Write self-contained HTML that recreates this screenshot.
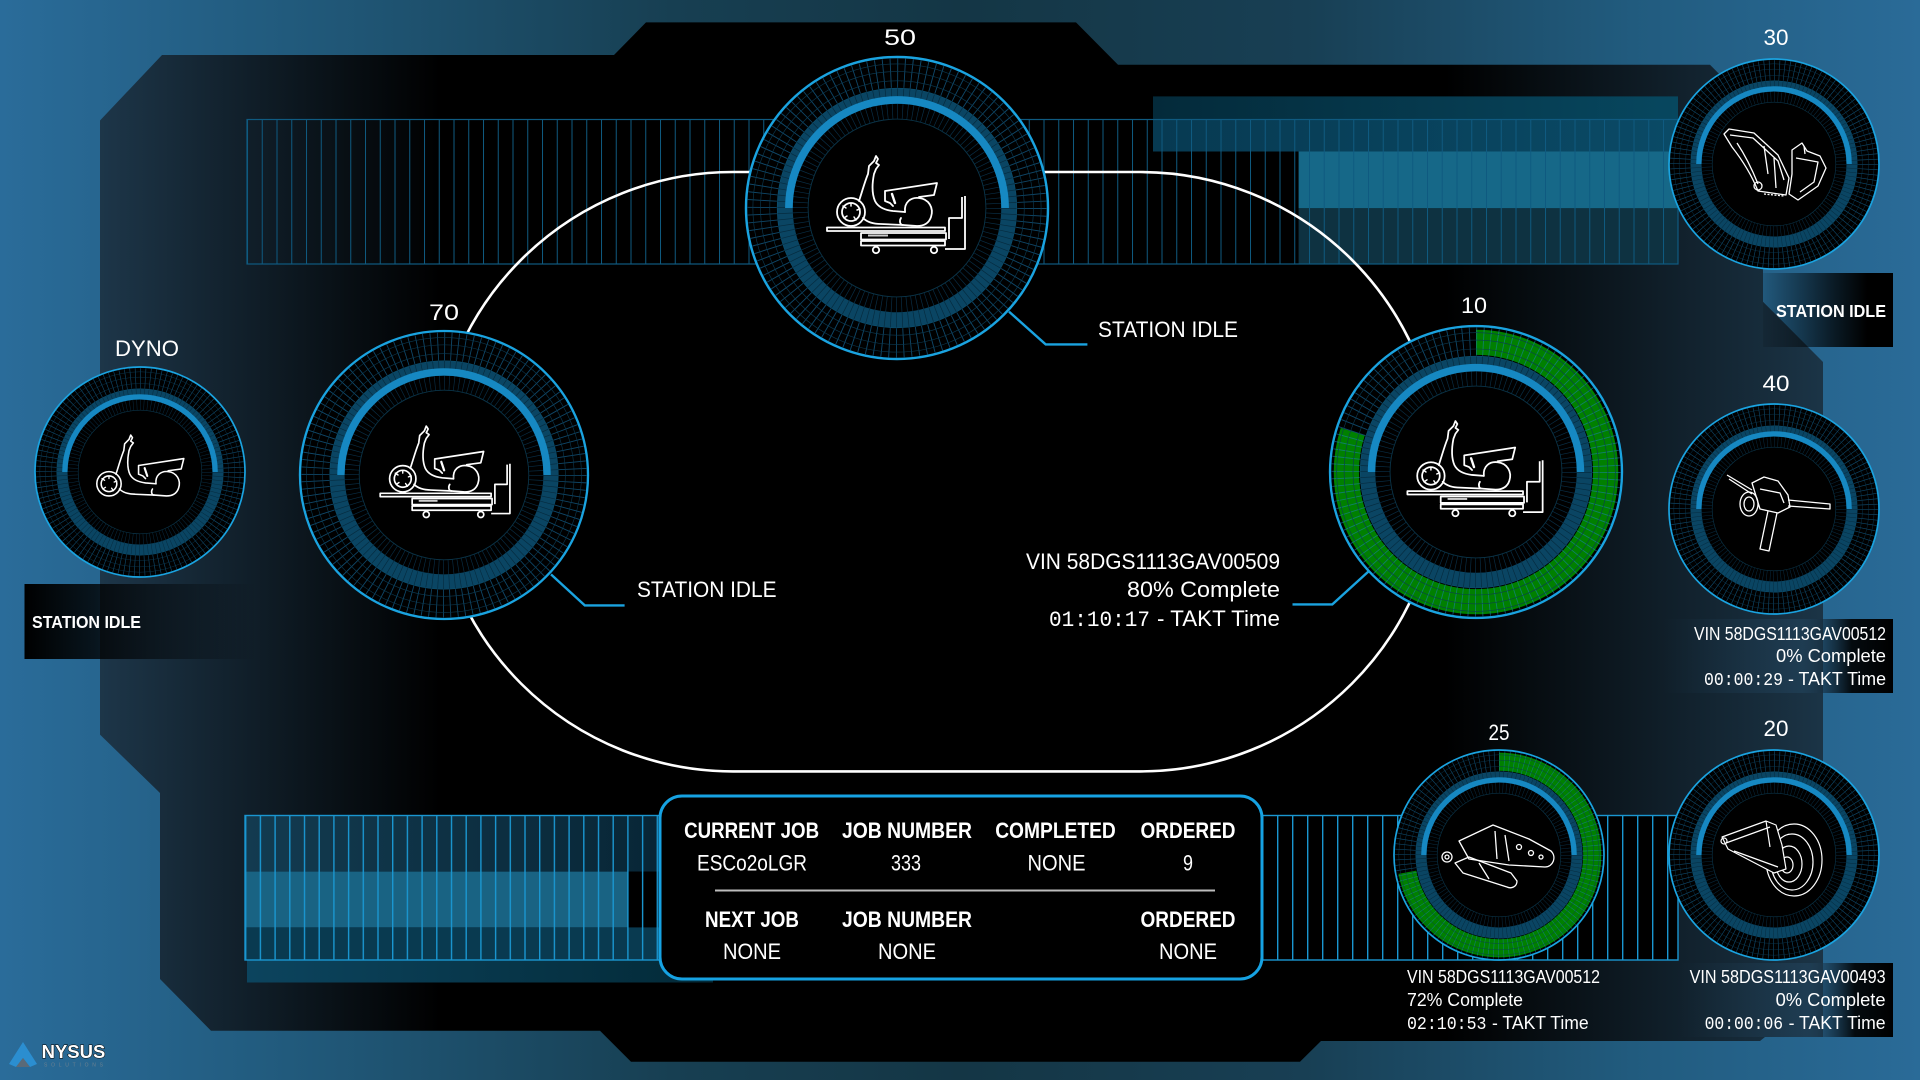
<!DOCTYPE html>
<html><head><meta charset="utf-8"><style>
html,body{margin:0;padding:0;background:#000;width:1920px;height:1080px;overflow:hidden}
svg{display:block}
text{font-family:"Liberation Sans",Arial,sans-serif;fill:#fff}
.m{font-family:"Liberation Mono","DejaVu Sans Mono",monospace}
.b{font-weight:bold}
</style></head><body>
<svg width="1920" height="1080" viewBox="0 0 1920 1080" xmlns="http://www.w3.org/2000/svg">
<defs>
 <linearGradient id="bg" x1="0" x2="1" y1="0" y2="0">
  <stop offset="0" stop-color="#2a6c9a"/>
  <stop offset="0.15" stop-color="#215a7c"/>
  <stop offset="0.35" stop-color="#173f52"/>
  <stop offset="0.5" stop-color="#143645"/>
  <stop offset="0.68" stop-color="#183f54"/>
  <stop offset="0.85" stop-color="#215b7e"/>
  <stop offset="1" stop-color="#2a6b98"/>
 </linearGradient>
 <linearGradient id="dk" gradientUnits="userSpaceOnUse" x1="100" x2="1893" y1="0" y2="0">
  <stop offset="0" stop-color="#1d3649"/>
  <stop offset="0.19" stop-color="#000"/>
  <stop offset="0.75" stop-color="#000"/>
  <stop offset="0.96" stop-color="#1b3446"/>
  <stop offset="1" stop-color="#1e3a50"/>
 </linearGradient>
 <linearGradient id="fadeR" x1="0" x2="1" y1="0" y2="0">
  <stop offset="0" stop-color="#000" stop-opacity="1"/>
  <stop offset="0.3" stop-color="#000" stop-opacity="0.8"/>
  <stop offset="1" stop-color="#000" stop-opacity="0"/>
 </linearGradient>
 <linearGradient id="fadeL" x1="0" x2="1" y1="0" y2="0">
  <stop offset="0" stop-color="#000" stop-opacity="0.1"/>
  <stop offset="0.55" stop-color="#000" stop-opacity="0.75"/>
  <stop offset="0.8" stop-color="#000" stop-opacity="1"/>
  <stop offset="1" stop-color="#000" stop-opacity="1"/>
 </linearGradient>
 <linearGradient id="vinbox" x1="0" x2="1" y1="0" y2="0">
  <stop offset="0" stop-color="#28506e" stop-opacity="0"/>
  <stop offset="0.6" stop-color="#28506e" stop-opacity="0.35"/>
  <stop offset="0.82" stop-color="#000" stop-opacity="0.9"/>
  <stop offset="1" stop-color="#000" stop-opacity="1"/>
 </linearGradient>
 <linearGradient id="topband" x1="0" x2="1" y1="0" y2="0">
  <stop offset="0" stop-color="#042a3a"/>
  <stop offset="1" stop-color="#07475f"/>
 </linearGradient>
 <linearGradient id="band1" x1="0" x2="1" y1="0" y2="0">
  <stop offset="0" stop-color="#073a52"/>
  <stop offset="1" stop-color="#0a4a66"/>
 </linearGradient>
 <linearGradient id="botband" x1="0" x2="1" y1="0" y2="0">
  <stop offset="0" stop-color="#0c445e"/>
  <stop offset="1" stop-color="#032a38"/>
 </linearGradient>
 <linearGradient id="bl1" x1="0" x2="1" y1="0" y2="0">
  <stop offset="0" stop-color="#133b50"/>
  <stop offset="1" stop-color="#082636"/>
 </linearGradient>
 <pattern id="pt" patternUnits="userSpaceOnUse" x="247" y="0" width="14.75" height="1080">
  <rect x="0" y="0" width="1" height="1080" fill="#0f5a80"/>
 </pattern>
 <pattern id="pb" patternUnits="userSpaceOnUse" x="245" y="0" width="14.7" height="1080">
  <rect x="0" y="0" width="1.4" height="1080" fill="#1a96d0"/>
 </pattern>
 <pattern id="pr" patternUnits="userSpaceOnUse" x="1262" y="0" width="15" height="1080">
  <rect x="0" y="0" width="1.4" height="1080" fill="#1a96d0"/>
 </pattern>

 <g id="ring">
  <circle r="88" fill="none" stroke="rgba(28,130,190,0.55)" stroke-width="19" stroke-dasharray="0.6 4.0075"/>
  <circle r="83" fill="none" stroke="#0b3a52" stroke-width="0.4"/>
  <circle r="89" fill="none" stroke="#0b3a52" stroke-width="0.4"/>
  <circle r="94" fill="none" stroke="#0b3a52" stroke-width="0.4"/>
  <circle r="78" fill="none" stroke="#0d5272" stroke-width="0.7"/>
  <circle r="73" fill="none" stroke="#0a4563" stroke-width="10"/>
  <circle r="73" fill="none" stroke="#062c40" stroke-width="10" stroke-dasharray="0.45 3.372"/>
  <path d="M-70.5,0 A70.5,70.5 0 0 1 70.5,0" fill="none" stroke="#1688c2" stroke-width="5"/>
  <circle r="63" fill="none" stroke="rgba(20,100,150,0.45)" stroke-width="10" stroke-dasharray="0.45 2.849"/>
  <circle r="58" fill="none" stroke="#0a3347" stroke-width="0.6"/>
  <circle r="98.5" fill="none" stroke="#1aa3e0" stroke-width="1.6"/>
 </g>

 <g id="scoot" fill="none" stroke="#fff" stroke-width="1.8" stroke-linejoin="round" stroke-linecap="round">
  <circle cx="-46" cy="4" r="14"/>
  <circle cx="-46" cy="4" r="9"/>
  <path d="M-46,-2 L-46,-5 M-40,2 L-37,1 M-43,9 L-41,12 M-50,8 L-53,10 M-51,0 L-54,-2" stroke-width="1.5"/>
  <path d="M-38,-7 C-35,-16 -32,-27 -29,-34 L-28,-42 L-23,-47 L-21,-52 L-19,-49 L-21,-45 L-18,-43 L-21,-39 L-23,-34 C-25,-24 -25,-14 -22,-7 C-19,-1 -13,2 -4,3 L8,4"/>
  <path d="M-12,-17 L40,-25 L37,-13 L22,-11 M-12,-17 L-12,-7 L-7,-5 L-4,-2"/>
  <path d="M-5,-14 l3,9" stroke-width="2.4"/>
  <path d="M8,4 C7,-6 14,-11 22,-10 C32,-9 37,0 34,9 C32,15 27,18 20,18 L6,17 C3,17 2,13 4,10"/>
  <path d="M-34,10 C-30,14 -24,16 -16,16 L6,17"/>
 </g>
 <g id="cart" fill="none" stroke="#fff" stroke-width="1.8" stroke-linejoin="round">
  <rect x="-70" y="19.5" width="118" height="3.5"/>
  <rect x="-36" y="25" width="85" height="6.5"/>
  <rect x="-36" y="33" width="84" height="4.5"/>
  <circle cx="-21" cy="42" r="3.2"/>
  <circle cx="37" cy="42" r="3.2"/>
  <path d="M48,41 H68 V-12 M52,31 V10 H65 V-11"/>
  <rect x="-29" y="26.5" width="20" height="2" fill="#ccc" stroke="none"/>
 </g>
</defs>

<!-- background -->
<rect x="0" y="0" width="1920" height="1080" fill="url(#bg)"/>
<!-- main dark shape -->
<polygon fill="url(#dk)" points="100,120.5 162,55 614,55 646,22.4 1076,22.4 1118,64.7 1710,64.7 1740,95 1763,118 1763,301.7 1823,362 1823,1037 1765,1037 1760,1041 1321,1041 1300,1061.7 631,1061.7 600,1030.7 211,1030.7 160,979 160,793 100,734.6"/>

<!-- side boxes -->
<rect x="24.5" y="584" width="232.5" height="75" fill="url(#fadeR)"/>
<rect x="1763" y="273" width="130" height="74" fill="url(#fadeL)"/>
<rect x="1663" y="619" width="230" height="74" fill="url(#vinbox)"/>
<rect x="1680" y="963" width="213" height="74" fill="url(#vinbox)"/>

<!-- top bars -->
<rect x="1153" y="96.4" width="525" height="23.1" fill="url(#topband)"/>
<rect x="1153" y="119.5" width="525" height="32" fill="url(#band1)"/>
<rect x="1298.6" y="151.5" width="379.4" height="56.8" fill="#166888"/>
<rect x="1298.6" y="208.3" width="379.4" height="55.2" fill="#0e3241"/>
<rect x="247" y="119.5" width="1431" height="144.5" fill="url(#pt)"/>
<rect x="247" y="119.5" width="1431" height="144.5" fill="none" stroke="#0f5a80" stroke-width="1.2"/>

<!-- bottom left bars -->
<rect x="247" y="960" width="466" height="22.5" fill="url(#botband)"/>
<rect x="245" y="815.5" width="415" height="56.1" fill="url(#bl1)"/>
<rect x="245" y="871.6" width="382.7" height="55.8" fill="#196383"/>
<rect x="627.7" y="871.6" width="32.3" height="55.8" fill="#000"/>
<rect x="245" y="927.4" width="415" height="32.6" fill="#093a50"/>
<rect x="245" y="815.5" width="415" height="144.5" fill="url(#pb)"/>
<rect x="245" y="815.5" width="415" height="144.5" fill="none" stroke="#1a96d0" stroke-width="1.4"/>

<!-- bottom right bars -->
<rect x="1262" y="815.5" width="416" height="144.5" fill="#000"/>
<rect x="1262" y="815.5" width="416" height="144.5" fill="url(#pr)"/>
<rect x="1262" y="815.5" width="416" height="144.5" fill="none" stroke="#1a96d0" stroke-width="1.4"/>

<!-- track -->
<path d="M733,172 H1140 A299.7,299.7 0 0 1 1140,771.4 H733 A299.7,299.7 0 0 1 733,172 Z" fill="none" stroke="#fff" stroke-width="2.6"/>

<!-- table -->
<rect x="660" y="796" width="602" height="183" rx="22" ry="22" fill="#000" stroke="#16a2e2" stroke-width="3"/>
<line x1="715" y1="890.5" x2="1215" y2="890.5" stroke="#bdbdbd" stroke-width="2"/>

<!-- connectors -->
<polyline points="1009,311.6 1045.7,344.4 1087.4,344.4" fill="none" stroke="#1aa3e0" stroke-width="2.4"/>
<polyline points="551,574.4 584.8,605.4 624.6,605.4" fill="none" stroke="#1aa3e0" stroke-width="2.4"/>
<polyline points="1369,571 1332.3,604.4 1292.5,604.4" fill="none" stroke="#1aa3e0" stroke-width="2.4"/>

<!-- stations -->
<g transform="translate(140,472) scale(1.066)"><circle r="98.5" fill="#000"/><use href="#ring"/></g>
<g transform="translate(444,475) scale(1.462)"><circle r="98.5" fill="#000"/><use href="#ring"/></g>
<g transform="translate(897,208) scale(1.533)"><circle r="98.5" fill="#000"/><use href="#ring"/></g>
<g transform="translate(1476,472) scale(1.482)"><circle r="98.5" fill="#000"/>
 <circle r="87.5" fill="none" stroke="#008000" stroke-width="17" stroke-dasharray="439.8 1000" transform="rotate(-90)"/>
 <use href="#ring"/></g>
<g transform="translate(1774,164) scale(1.066)"><circle r="98.5" fill="#000"/><use href="#ring"/></g>
<g transform="translate(1774,509) scale(1.066)"><circle r="98.5" fill="#000"/><use href="#ring"/></g>
<g transform="translate(1499,855) scale(1.066)"><circle r="98.5" fill="#000"/>
 <circle r="87.5" fill="none" stroke="#008000" stroke-width="17" stroke-dasharray="395.9 1000" transform="rotate(-90)"/>
 <use href="#ring"/></g>
<g transform="translate(1774,855) scale(1.066)"><circle r="98.5" fill="#000"/><use href="#ring"/></g>

<!-- scooter icons -->
<g transform="translate(149,480.3) scale(0.87)"><use href="#scoot"/></g>
<g transform="translate(446,475) scale(0.94)"><use href="#scoot"/><use href="#cart"/></g>
<g transform="translate(897,208)"><use href="#scoot"/><use href="#cart"/></g>
<g transform="translate(1476,472) scale(0.98)"><use href="#scoot"/><use href="#cart"/></g>

<!-- part icons -->
<g transform="translate(1774,164)" fill="none" stroke="#fff" stroke-width="1.3" stroke-linejoin="round">
 <path d="M-50,-30 L-45,-35 L-20,-31 L4,-9 L15,14 L12,31 L-16,27 C-22,12 -31,-3 -42,-17 Z"/>
 <path d="M-44,-29 L-21,-26 L4,-3 L10,16 M-37,-21 C-29,-9 -22,5 -16,20 M-10,-18 L-6,10 M0,-6 L2,24"/>
 <path d="M18,-14 L28,-21 L33,-13 L46,-8 L52,4 L44,22 L24,36 L15,30 L18,10 Z"/>
 <path d="M22,-6 L44,-2 L40,18 L26,28 M30,-18 L31,-10"/>
 <circle cx="-16" cy="22" r="4"/>
 <path d="M-10,30 L10,32" stroke-dasharray="2 1.5"/>
</g>
<g transform="translate(1774,509)" fill="none" stroke="#fff" stroke-width="1.3" stroke-linejoin="round">
 <path d="M-47,-34 L-22,-19 M-45,-30 L-22,-15"/>
 <path d="M-22,-26 L-10,-32 L4,-28 L14,-14 L16,-2 L4,4 L-14,0 Z"/>
 <path d="M14,-9 L56,-5 L56,0 L14,-3"/>
 <ellipse cx="-25" cy="-5" rx="9" ry="12"/>
 <ellipse cx="-25" cy="-5" rx="5" ry="7"/>
 <path d="M-6,2 L-14,40 L-5,42 L3,4"/>
 <path d="M-14,-20 L6,-16 L10,-6"/>
</g>
<g transform="translate(1499,855)" fill="none" stroke="#fff" stroke-width="1.3" stroke-linejoin="round">
 <path d="M-40,-14 L-6,-30 L30,-16 L52,-4 C58,2 54,12 46,12 L10,10 L-30,4 Z"/>
 <path d="M-44,8 L-30,2 L12,18 L18,26 C18,32 12,34 8,32 L-36,18 Z"/>
 <circle cx="-52" cy="2" r="5"/>
 <circle cx="-52" cy="2" r="2"/>
 <circle cx="20" cy="-8" r="2.5"/><circle cx="32" cy="-2" r="2.5"/><circle cx="42" cy="2" r="2"/>
 <path d="M-4,-24 L-2,4 M6,-20 L10,6 M-20,8 L-10,24"/>
</g>
<g transform="translate(1774,855)" fill="none" stroke="#fff" stroke-width="1.2" stroke-linejoin="round">
 <ellipse cx="20" cy="5" rx="28" ry="36"/>
 <ellipse cx="18" cy="7" rx="21" ry="28"/>
 <ellipse cx="15" cy="9" rx="13" ry="18"/>
 <ellipse cx="13" cy="10" rx="6" ry="8"/>
 <path d="M-52,-18 L-8,-34 L2,-30 L8,-10 L12,14 L0,18 L-46,-6 Z" fill="#000"/>
 <path d="M-48,-12 L-4,-28 M-40,-4 L4,12 M-8,-34 L-4,-8"/>
 <circle cx="-50" cy="-14" r="3"/>
</g>

<!-- station labels -->
<g font-size="22" text-anchor="middle">
 <text x="147" y="356" textLength="64" lengthAdjust="spacingAndGlyphs">DYNO</text>
 <text x="444" y="320" textLength="30" lengthAdjust="spacingAndGlyphs">70</text>
 <text x="900" y="45" textLength="32" lengthAdjust="spacingAndGlyphs">50</text>
 <text x="1474" y="313" textLength="26" lengthAdjust="spacingAndGlyphs">10</text>
 <text x="1776" y="45" textLength="25" lengthAdjust="spacingAndGlyphs">30</text>
 <text x="1776" y="391" textLength="27" lengthAdjust="spacingAndGlyphs">40</text>
 <text x="1499" y="740" textLength="21" lengthAdjust="spacingAndGlyphs">25</text>
 <text x="1776" y="736" textLength="25" lengthAdjust="spacingAndGlyphs">20</text>
</g>

<!-- station idle -->
<text x="1098" y="337" font-size="22" textLength="140" lengthAdjust="spacingAndGlyphs">STATION IDLE</text>
<text x="637" y="597" font-size="22" textLength="139.5" lengthAdjust="spacingAndGlyphs">STATION IDLE</text>
<text class="b" x="32" y="628" font-size="17.5" textLength="109" lengthAdjust="spacingAndGlyphs">STATION IDLE</text>
<text class="b" x="1886" y="317" font-size="17.5" text-anchor="end" textLength="110" lengthAdjust="spacingAndGlyphs">STATION IDLE</text>

<!-- VIN 10 -->
<g font-size="22">
 <text x="1280" y="569" text-anchor="end" textLength="254" lengthAdjust="spacingAndGlyphs">VIN 58DGS1113GAV00509</text>
 <text x="1280" y="597" text-anchor="end" textLength="153" lengthAdjust="spacingAndGlyphs">80% Complete</text>
 <text class="m" x="1049" y="626" textLength="101" lengthAdjust="spacingAndGlyphs">01:10:17</text>
 <text x="1280" y="626" text-anchor="end" textLength="123" lengthAdjust="spacingAndGlyphs">- TAKT Time</text>
</g>
<!-- VIN 40 -->
<g font-size="18">
 <text x="1886" y="640" text-anchor="end" textLength="192" lengthAdjust="spacingAndGlyphs">VIN 58DGS1113GAV00512</text>
 <text x="1886" y="662" text-anchor="end" textLength="110" lengthAdjust="spacingAndGlyphs">0% Complete</text>
 <text class="m" x="1704" y="685" textLength="79" lengthAdjust="spacingAndGlyphs">00:00:29</text>
 <text x="1886" y="685" text-anchor="end" textLength="98" lengthAdjust="spacingAndGlyphs">- TAKT Time</text>
</g>
<!-- VIN 25 -->
<g font-size="18">
 <text x="1407" y="983" textLength="193" lengthAdjust="spacingAndGlyphs">VIN 58DGS1113GAV00512</text>
 <text x="1407" y="1006" textLength="116" lengthAdjust="spacingAndGlyphs">72% Complete</text>
 <text class="m" x="1407" y="1029" textLength="79.5" lengthAdjust="spacingAndGlyphs">02:10:53</text>
 <text x="1492" y="1029" textLength="96.7" lengthAdjust="spacingAndGlyphs">- TAKT Time</text>
</g>
<!-- VIN 20 -->
<g font-size="18">
 <text x="1885.6" y="983" text-anchor="end" textLength="196" lengthAdjust="spacingAndGlyphs">VIN 58DGS1113GAV00493</text>
 <text x="1885.6" y="1006" text-anchor="end" textLength="110" lengthAdjust="spacingAndGlyphs">0% Complete</text>
 <text class="m" x="1704.6" y="1029" textLength="78.5" lengthAdjust="spacingAndGlyphs">00:00:06</text>
 <text x="1885.6" y="1029" text-anchor="end" textLength="97" lengthAdjust="spacingAndGlyphs">- TAKT Time</text>
</g>

<!-- table text -->
<g font-size="22" text-anchor="middle">
 <text class="b" x="751.6" y="838" textLength="135" lengthAdjust="spacingAndGlyphs">CURRENT JOB</text>
 <text class="b" x="907" y="838" textLength="130" lengthAdjust="spacingAndGlyphs">JOB NUMBER</text>
 <text class="b" x="1055.5" y="838" textLength="120.6" lengthAdjust="spacingAndGlyphs">COMPLETED</text>
 <text class="b" x="1188" y="838" textLength="95" lengthAdjust="spacingAndGlyphs">ORDERED</text>
 <text x="752" y="870.5" textLength="110" lengthAdjust="spacingAndGlyphs">ESCo2oLGR</text>
 <text x="906" y="870.5" textLength="30" lengthAdjust="spacingAndGlyphs">333</text>
 <text x="1056.5" y="870.5" textLength="58" lengthAdjust="spacingAndGlyphs">NONE</text>
 <text x="1188" y="870.5" textLength="10" lengthAdjust="spacingAndGlyphs">9</text>
 <text class="b" x="752" y="927" textLength="94" lengthAdjust="spacingAndGlyphs">NEXT JOB</text>
 <text class="b" x="907" y="927" textLength="130" lengthAdjust="spacingAndGlyphs">JOB NUMBER</text>
 <text class="b" x="1188" y="927" textLength="95" lengthAdjust="spacingAndGlyphs">ORDERED</text>
 <text x="752" y="959" textLength="58" lengthAdjust="spacingAndGlyphs">NONE</text>
 <text x="907" y="959" textLength="58" lengthAdjust="spacingAndGlyphs">NONE</text>
 <text x="1188" y="959" textLength="58" lengthAdjust="spacingAndGlyphs">NONE</text>
</g>

<!-- logo -->
<path d="M23,1042 L37,1064 L30,1067 L23,1058 L16,1067 L9,1064 Z" fill="#2b8ed0"/>
<path d="M23,1058 L30,1067 L16,1067 Z" fill="#5a6a78"/>
<text class="b" x="41.6" y="1058" font-size="18" textLength="63.7" lengthAdjust="spacingAndGlyphs" stroke="#000" stroke-width="1" paint-order="stroke">NYSUS</text>
<text x="44" y="1066.5" font-size="5" textLength="59" lengthAdjust="spacing" style="fill:#6a8090">SOLUTIONS</text>
</svg>
</body></html>
